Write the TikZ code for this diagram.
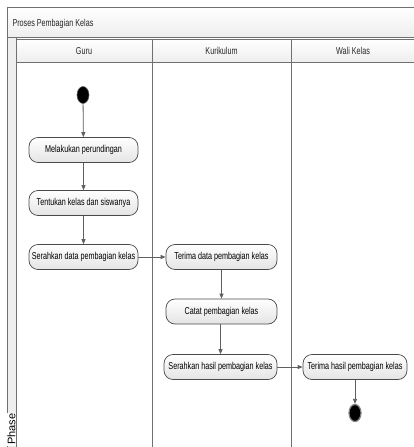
\documentclass[tikz,border=0pt]{standalone}
\usepackage{fontspec}
\setmainfont{Liberation Sans}
\newfontfamily\condfont{Liberation Sans}[FakeStretch=0.72]
\usetikzlibrary{arrows.meta,shapes.geometric}

\definecolor{linegray}{HTML}{707070}
\definecolor{boxedge}{HTML}{4A4A4A}
\definecolor{boxfill}{HTML}{E4E4E4}
\definecolor{arrowgray}{HTML}{606060}
\definecolor{stripfill}{HTML}{EEEEEE}

\begin{document}
\begin{tikzpicture}[x=1pt,y=-1pt,
  frameline/.style={draw=linegray, line width=0.8pt},
  headcell/.style={frameline, top color=white, bottom color=stripfill},
  headtext/.style={font=\condfont\fontsize{10}{12}\selectfont, text=black!85},
  action/.style={draw=boxedge, line width=0.7pt, rounded corners=9pt,
    top color=white, bottom color=boxfill, minimum height=25pt,
    inner sep=1pt, font=\condfont\fontsize{10}{12}\selectfont},
  blob/.style={ellipse, fill=black, draw=arrowgray, line width=0.6pt,
    minimum width=12pt, minimum height=17pt, inner sep=0pt},
  endblob/.style={blob, draw=gray, line width=1.2pt},
  flow/.style={draw=arrowgray, line width=0.8pt,
    -{Triangle[length=5pt,width=4pt]}}]

% page area
\path[use as bounding box] (0,0) rectangle (414,447);

% diagram frame and title row
\path[headcell] (7,7) rectangle (420,37);
\node[anchor=west, headtext] (title) at (9,24) {Proses Pembagian Kelas};

% phase strip on the left
\path[frameline, fill=stripfill] (7,37) rectangle (16,452);
\node[rotate=90, anchor=east, fill=white, inner sep=0.6pt,
  font=\fontsize{11}{11}\selectfont] (phase) at (11.5,413) {Phase};

% swimlane headers
\path[headcell] (16,39) rectangle (152,62);
\path[headcell] (152,39) rectangle (291,62);
\path[headcell] (291,39) rectangle (420,62);
\node[headtext] (guru) at (84,51) {Guru};
\node[headtext] (kurikulum) at (221.5,51) {Kurikulum};
\node[headtext] (wali) at (353,51) {Wali Kelas};

% swimlane borders
\draw[frameline] (16,62) -- (16,452);
\draw[frameline] (152,62) -- (152,452);
\draw[frameline] (291,62) -- (291,452);

% activities
\node[blob] (start) at (83,95) {};
\node[action, minimum width=109pt] (a1) at (83.5,150) {Melakukan perundingan};
\node[action, minimum width=109pt] (a2) at (83.5,203) {Tentukan kelas dan siswanya};
\node[action, minimum width=109pt] (a3) at (83.5,257) {Serahkan data pembagian kelas};
\node[action, minimum width=111pt] (b1) at (221.5,257) {Terima data pembagian kelas};
\node[action, minimum width=111pt] (b2) at (221.5,311.5) {Catat pembagian kelas};
\node[action, minimum width=113pt] (b3) at (220.5,367) {Serahkan hasil pembagian kelas};
\node[action, minimum width=104pt] (c1) at (355,367) {Terima hasil pembagian kelas};
\node[endblob] (stop) at (355,413) {};

% control flow
\draw[flow] (start) -- (a1);
\draw[flow] (a1) -- (a2);
\draw[flow] (a2) -- (a3);
\draw[flow] (a3) -- (b1);
\draw[flow] (b1) -- (b2);
\draw[flow] (b2.south -| b3) -- (b3);
\draw[flow] (b3) -- (c1);
\draw[flow] (c1) -- (stop);
\end{tikzpicture}
\end{document}
